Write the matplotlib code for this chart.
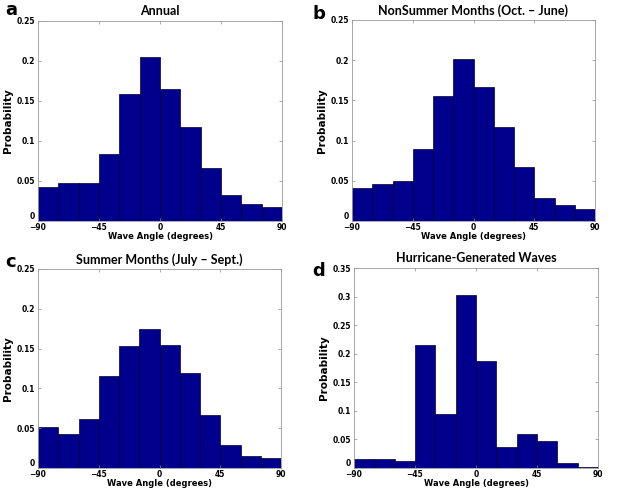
import numpy as np
import matplotlib.pyplot as plt

# bin edges in degrees (15 degree bins)
edges = np.arange(-90, 91, 15)

annual = [0.042, 0.047, 0.048, 0.084, 0.159, 0.205, 0.165, 0.118, 0.066, 0.032, 0.021, 0.018]
nonsummer = [0.041, 0.046, 0.050, 0.090, 0.156, 0.201, 0.167, 0.117, 0.067, 0.029, 0.020, 0.015]
summer = [0.051, 0.043, 0.061, 0.116, 0.153, 0.174, 0.154, 0.119, 0.067, 0.029, 0.015, 0.013]
hurricane = [0.015, 0.016, 0.013, 0.215, 0.094, 0.302, 0.188, 0.037, 0.059, 0.047, 0.009, 0.001]

titles = ["Annual", "NonSummer Months (Oct. \u2013 June)",
          "Summer Months (July \u2013 Sept.)", "Hurricane-Generated Waves"]
letters = ["a", "b", "c", "d"]
ymax = [0.25, 0.25, 0.25, 0.35]
yticks = [[0, 0.05, 0.1, 0.15, 0.2, 0.25],
          [0, 0.05, 0.1, 0.15, 0.2, 0.25],
          [0, 0.05, 0.1, 0.15, 0.2, 0.25],
          [0, 0.05, 0.1, 0.15, 0.2, 0.25, 0.3, 0.35]]
xticks = [-90, -45, 0, 45, 90]

W, H = 630, 488
# axes boxes in pixels: left, top, right, bottom
boxes = [(38, 21, 282, 221), (352, 20, 595, 221),
         (38, 269, 281, 468), (354, 268, 598, 468)]
letter_pos = [(5, 10), (313, 14), (5, 262), (312, 271)]

fig = plt.figure(figsize=(W / 100, H / 100), dpi=100)

for i, data in enumerate([annual, nonsummer, summer, hurricane]):
    l, t, r, b = boxes[i]
    ax = fig.add_axes([l / W, 1 - b / H, (r - l) / W, (b - t) / H])
    ax.bar(edges[:-1], data, width=15, align='edge', color='#00008c',
           edgecolor='#000030', linewidth=0.5)
    ax.set_xlim(-90, 90)
    ax.set_ylim(0, ymax[i])
    ax.set_xticks(xticks)
    ax.set_yticks(yticks[i])
    ax.set_yticklabels(['0' if v == 0 else ('%g' % v) for v in yticks[i]])
    ax.tick_params(direction='in', length=2, width=0.5, top=True, right=True,
                   labelsize=5.5, color='#888888')
    ax.tick_params(axis='x', pad=1.5)
    ax.tick_params(axis='y', pad=2)
    for lab in ax.get_xticklabels() + ax.get_yticklabels():
        lab.set_fontweight('bold')
    # MATLAB-style corner: the zero label sits just above the -90 label
    ax.get_yticklabels()[0].set_va('bottom')
    for s in ax.spines.values():
        s.set_color('#999999')
        s.set_linewidth(0.6)
    ax.set_ylabel('Probability', fontsize=7.5, fontweight='bold', labelpad=3)
    ax.set_xlabel('Wave Angle (degrees)', fontsize=6, fontweight='bold', labelpad=0)
    ax.set_title(titles[i], fontsize=9, fontweight='bold', family='Lato', pad=4)
    fig.text(letter_pos[i][0] / W, 1 - letter_pos[i][1] / H, letters[i],
             fontsize=13, fontweight='bold', va='center', ha='left')

fig.savefig('out.png', dpi=100)
